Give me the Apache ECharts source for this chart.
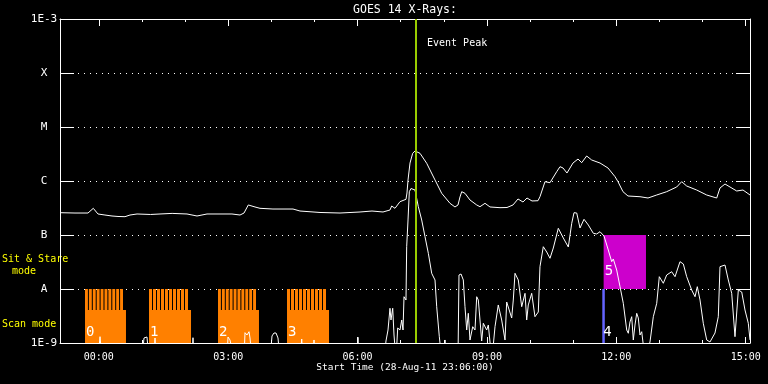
<!DOCTYPE html>
<html><head><meta charset="utf-8">
<script src="https://cdn.jsdelivr.net/npm/echarts@6/dist/echarts.min.js"></script>
<style>html,body{margin:0;padding:0;background:#000}#c{width:768px;height:384px}</style>
</head><body><div id="c"></div>
<script>
// Time in hours relative to 29-Aug-11 00:00 (start 28-Aug-11 23:06 = -0.9 h)
const xRange = [-0.9, 15.1];
const xMajorHours = [0, 3, 6, 9, 12, 15];
const xMinorHours = [-0.9, 1, 2, 4, 5, 7, 8, 10, 11, 13, 14];
const yTickValues = [-9, -8, -7, -6, -5, -4, -3];       // log10 flux (W/m^2)
const yTickLabels = ['1E-9', 'A', 'B', 'C', 'M', 'X', '1E-3'];

// GOES 14 long channel (1-8 A), [hour, log10 flux]
const longChannel = [[-0.9,-6.587],[-0.552,-6.593],[-0.251,-6.593],[-0.128,-6.506],[-0.019,-6.611],[0.143,-6.630],[0.306,-6.648],[0.445,-6.657],[0.607,-6.661],[0.723,-6.630],[0.886,-6.611],[1.2,-6.62],[1.419,-6.611],[1.7,-6.60],[2.045,-6.611],[2.277,-6.648],[2.509,-6.611],[2.880,-6.611],[2.926,-6.583],[3.088,-6.611],[3.274,-6.630],[3.367,-6.593],[3.466,-6.444],[3.622,-6.481],[3.738,-6.506],[4.039,-6.519],[4.503,-6.519],[4.665,-6.556],[5.129,-6.583],[5.593,-6.593],[6.057,-6.574],[6.335,-6.556],[6.590,-6.574],[6.752,-6.537],[6.791,-6.463],[6.868,-6.506],[6.984,-6.383],[7.123,-6.339],[7.146,-6.222],[7.170,-5.981],[7.216,-5.667],[7.278,-5.487],[7.332,-5.444],[7.378,-5.454],[7.448,-5.487],[7.603,-5.672],[7.796,-5.981],[7.951,-6.228],[8.143,-6.413],[8.259,-6.481],[8.329,-6.444],[8.375,-6.296],[8.415,-6.198],[8.491,-6.228],[8.607,-6.352],[8.763,-6.444],[8.839,-6.476],[8.955,-6.413],[9.071,-6.481],[9.303,-6.494],[9.465,-6.491],[9.604,-6.444],[9.720,-6.333],[9.836,-6.389],[9.929,-6.315],[10.045,-6.370],[10.184,-6.365],[10.230,-6.291],[10.346,-6.013],[10.462,-6.031],[10.618,-5.828],[10.694,-5.735],[10.764,-5.759],[10.856,-5.852],[10.995,-5.667],[11.112,-5.593],[11.197,-5.661],[11.313,-5.537],[11.429,-5.611],[11.622,-5.667],[11.807,-5.759],[11.970,-5.920],[12.039,-6.013],[12.155,-6.198],[12.271,-6.278],[12.549,-6.291],[12.735,-6.315],[12.937,-6.259],[13.168,-6.198],[13.400,-6.111],[13.516,-6.013],[13.632,-6.093],[13.864,-6.167],[14.096,-6.259],[14.328,-6.315],[14.404,-6.130],[14.520,-6.056],[14.792,-6.185],[14.938,-6.167],[15.1,-6.259]];

// GOES 14 short channel (0.5-4 A), [hour, log10 flux]; values below 1E-9 fall off the bottom
const shortChannel = [[-0.9,-9.3],[-0.019,-9.3],[0.028,-8.883],[0.074,-9.3],[1.001,-9.3],[1.048,-8.907],[1.117,-8.889],[1.164,-9.3],[1.280,-9.3],[1.303,-8.907],[1.326,-9.3],[2.161,-9.3],[2.184,-8.902],[2.207,-9.3],[2.972,-9.3],[2.996,-8.889],[3.042,-8.944],[3.088,-8.907],[3.135,-9.3],[3.367,-9.3],[3.390,-8.809],[3.436,-8.852],[3.483,-8.791],[3.506,-8.907],[3.552,-9.3],[3.970,-9.3],[4.016,-8.870],[4.062,-8.815],[4.109,-8.815],[4.155,-8.907],[4.201,-9.3],[4.665,-9.3],[4.705,-8.926],[4.735,-9.3],[4.967,-9.3],[4.990,-8.944],[5.013,-9.3],[5.987,-9.3],[6.010,-8.894],[6.033,-9.3],[6.613,-9.3],[6.659,-8.963],[6.706,-8.759],[6.752,-8.357],[6.775,-8.574],[6.815,-8.357],[6.845,-8.852],[6.891,-9.3],[6.931,-8.722],[6.984,-8.759],[7.024,-8.574],[7.054,-8.759],[7.077,-8.143],[7.123,-8.204],[7.139,-7.217],[7.170,-6.722],[7.200,-6.198],[7.239,-6.139],[7.278,-6.135],[7.332,-6.167],[7.409,-6.476],[7.487,-6.722],[7.564,-7.031],[7.641,-7.339],[7.719,-7.709],[7.749,-7.759],[7.796,-7.833],[7.835,-8.328],[7.896,-8.883],[7.951,-9.3],[8.004,-9.3],[8.028,-8.944],[8.051,-9.3],[8.329,-9.3],[8.352,-7.741],[8.399,-7.722],[8.452,-7.833],[8.491,-8.328],[8.531,-8.759],[8.568,-8.450],[8.607,-8.944],[8.670,-8.698],[8.723,-8.759],[8.763,-8.143],[8.800,-8.204],[8.839,-8.574],[8.878,-8.963],[8.916,-8.635],[8.955,-8.611],[8.994,-8.759],[9.032,-8.667],[9.071,-8.981],[9.117,-9.3],[9.187,-8.698],[9.263,-8.296],[9.342,-8.574],[9.419,-8.944],[9.458,-8.241],[9.495,-8.265],[9.574,-8.537],[9.611,-8.204],[9.651,-7.709],[9.690,-7.722],[9.727,-7.833],[9.806,-8.328],[9.883,-8.080],[9.922,-8.574],[9.959,-8.296],[10.038,-8.080],[10.114,-8.513],[10.191,-8.426],[10.230,-7.587],[10.307,-7.217],[10.386,-7.315],[10.462,-7.431],[10.539,-7.241],[10.655,-6.876],[10.771,-7.056],[10.887,-7.222],[10.966,-6.783],[11.019,-6.587],[11.082,-6.593],[11.158,-6.870],[11.251,-6.709],[11.351,-6.815],[11.467,-6.969],[11.545,-6.981],[11.622,-6.939],[11.715,-7.019],[11.814,-7.278],[11.893,-7.494],[11.930,-7.444],[12.009,-7.648],[12.086,-7.957],[12.162,-8.265],[12.241,-8.759],[12.278,-8.820],[12.317,-8.611],[12.357,-8.513],[12.394,-8.944],[12.433,-8.667],[12.473,-8.450],[12.510,-8.537],[12.549,-8.852],[12.589,-8.791],[12.665,-9.3],[12.781,-8.981],[12.858,-8.513],[12.937,-8.265],[12.997,-7.772],[13.090,-7.894],[13.168,-7.741],[13.284,-7.680],[13.361,-7.772],[13.477,-7.494],[13.554,-7.537],[13.632,-7.772],[13.748,-8.019],[13.825,-8.143],[13.878,-7.957],[13.941,-8.204],[14.017,-8.635],[14.096,-8.944],[14.172,-8.981],[14.288,-8.815],[14.365,-8.513],[14.404,-7.587],[14.520,-7.556],[14.597,-7.833],[14.676,-8.080],[14.752,-8.883],[14.829,-8.019],[14.908,-8.056],[14.984,-8.389],[15.061,-8.635],[15.1,-8.944]];

// Scan mode rasters: [start hour, end hour]
const scanBlocks = [[-0.320, 0.630], [1.164, 2.138], [2.764, 3.714], [4.364, 5.338]];
const scanLabels = ['0', '1', '2', '3'];
const scanSolidTop = -8.389;
const scanStripeTop = -8;
const scanStripes = 10;

// Other rasters: [start hour, end hour, bottom, top]
const otherBlocks = [[11.675, 11.730, -9, -8], [11.706, 12.688, -8, -7]];
const otherLabels = ['4', '5'];
const otherColors = ['#6464ff', '#cc00cc'];

const eventPeakHour = 7.348;

const MONO = '"DejaVu Sans Mono", monospace';
const chart = echarts.init(document.getElementById('c'), null, {renderer: 'canvas'});

function xAxisDef(pos, vals, len, labels, line) {
  return {
    type: 'value', position: pos, min: xRange[0], max: xRange[1], offset: 0,
    axisLine: {show: line, onZero: false, lineStyle: {color: '#fff', width: 1}},
    axisTick: {show: true, inside: true, length: len, customValues: vals, lineStyle: {color: '#fff', width: 1}},
    axisLabel: labels ? {show: true, customValues: xMajorHours, color: '#fff', fontFamily: MONO, fontSize: 10, margin: 9,
      formatter: v => String(Math.round(v)).padStart(2, '0') + ':00'} : {show: false},
    splitLine: {show: false}
  };
}

chart.setOption({
  backgroundColor: '#000',
  animation: false,
  grid: {left: 60, right: 18, top: 19, bottom: 41},
  xAxis: [
    xAxisDef('bottom', xMajorHours, 6, true, true),
    xAxisDef('bottom', xMinorHours, 3, false, false),
    xAxisDef('top', xMajorHours, 7, false, true),
    xAxisDef('top', xMinorHours, 3, false, false)
  ],
  yAxis: [
    {type: 'value', position: 'left', min: -9, max: -3, interval: 1,
     axisLine: {show: true, onZero: false, lineStyle: {color: '#fff', width: 1}},
     axisTick: {show: true, inside: true, length: 14, lineStyle: {color: '#fff', width: 1}},
     axisLabel: {show: true, color: '#fff', fontFamily: MONO, fontSize: 11, align: 'center', margin: 16,
       showMinLabel: true, showMaxLabel: true,
       formatter: v => yTickLabels[yTickValues.indexOf(Math.round(v))]},
     splitLine: {show: true, lineStyle: {color: '#fff', width: 1, type: [1, 5]}}},
    {type: 'value', position: 'right', min: -9, max: -3, interval: 1,
     axisLine: {show: true, onZero: false, lineStyle: {color: '#fff', width: 1}},
     axisTick: {show: true, inside: true, length: 14, lineStyle: {color: '#fff', width: 1}},
     axisLabel: {show: false}, splitLine: {show: false}}
  ],
  graphic: [
    {type: 'text', x: 405, y: 10, style: {text: 'GOES 14 X-Rays:', fill: '#fff', font: '11.5px ' + MONO, align: 'center', verticalAlign: 'middle'}},
    {type: 'text', x: 427, y: 43, style: {text: 'Event Peak', fill: '#fff', font: '10px ' + MONO, align: 'left', verticalAlign: 'middle'}},
    {type: 'text', x: 405, y: 368, style: {text: 'Start Time (28-Aug-11 23:06:00)', fill: '#fff', font: '9.5px ' + MONO, align: 'center', verticalAlign: 'middle'}},
    {type: 'text', x: 2, y: 259, style: {text: 'Sit & Stare', fill: '#ffff00', font: '10px ' + MONO, align: 'left', verticalAlign: 'middle'}},
    {type: 'text', x: 12, y: 271, style: {text: 'mode', fill: '#ffff00', font: '10px ' + MONO, align: 'left', verticalAlign: 'middle'}},
    {type: 'text', x: 2, y: 324, style: {text: 'Scan mode', fill: '#ffff00', font: '10px ' + MONO, align: 'left', verticalAlign: 'middle'}}
  ],
  series: [
    {type: 'custom', xAxisIndex: 0, yAxisIndex: 0, z: 1, clip: true,
     data: scanBlocks,
     renderItem: (params, api) => {
       const s = api.value(0), e = api.value(1);
       const pb = api.coord([s, -9]), pe = api.coord([e, scanSolidTop]);
       const ps = api.coord([s, scanStripeTop]);
       const x0 = pb[0], x1 = pe[0];
       const children = [{type: 'rect', shape: {x: x0, y: pe[1], width: x1 - x0, height: pb[1] - pe[1]}, style: {fill: '#ff8000'}}];
       const period = (x1 - 2 - x0) / scanStripes;
       for (let i = 0; i < scanStripes; i++) {
         children.push({type: 'rect', shape: {x: x0 + i * period, y: ps[1], width: period - 1, height: pe[1] - ps[1] + 0.5}, style: {fill: '#ff8000'}});
       }
       children.push({type: 'text', x: x0 + 1, y: pb[1] - 4, style: {text: scanLabels[params.dataIndex], fill: '#fff', font: '14px ' + MONO, verticalAlign: 'bottom'}});
       return {type: 'group', children};
     }},
    {type: 'custom', xAxisIndex: 0, yAxisIndex: 0, z: 1, clip: true,
     data: otherBlocks,
     renderItem: (params, api) => {
       const p0 = api.coord([api.value(0), api.value(2)]), p1 = api.coord([api.value(1), api.value(3)]);
       const i = params.dataIndex;
       return {type: 'group', children: [
         {type: 'rect', shape: {x: p0[0], y: p1[1], width: Math.max(2.5, p1[0] - p0[0]), height: p0[1] - p1[1]}, style: {fill: otherColors[i]}},
         {type: 'text', x: p0[0] + 1, y: p0[1] - (i === 0 ? 4 : 11), style: {text: otherLabels[i], fill: '#fff', font: '14px ' + MONO, verticalAlign: 'bottom'}}
       ]};
     }},
    {type: 'line', name: 'long', data: longChannel, z: 3, symbol: 'none', clip: true,
     lineStyle: {color: '#fff', width: 1}},
    {type: 'line', name: 'short', data: shortChannel, z: 3, symbol: 'none', clip: true,
     lineStyle: {color: '#fff', width: 1}},
    {type: 'line', data: [], z: 5,
     markLine: {silent: true, symbol: 'none', label: {show: false},
       lineStyle: {color: '#99cc00', width: 2, type: 'solid'},
       data: [{xAxis: eventPeakHour}]}}
  ]
});
</script></body></html>
